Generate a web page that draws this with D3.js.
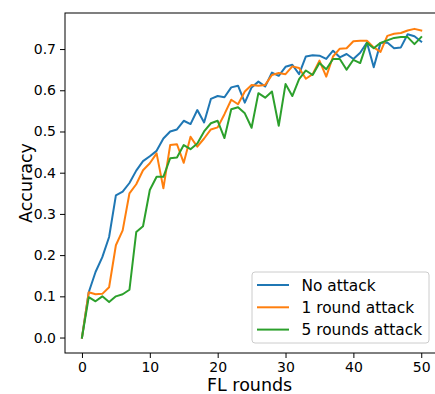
<!DOCTYPE html>
<html lang="en">
<head>
  <meta charset="UTF-8" />
  <title>Accuracy vs FL rounds</title>
  <script src="https://d3js.org/d3.v7.min.js"></script>
  <style>
    html, body {
      margin: 0;
      padding: 0;
      background: #fff;
      font-family: "DejaVu Sans", sans-serif;
    }
    svg { display: block; }
  </style>
</head>
<body>
  <svg id="chart" width="435" height="394"></svg>

  <script>
    const rounds = d3.range(0, 51);
    const seriesNames = ["No attack", "1 round attack", "5 rounds attack"];
    const colors = ["#1f77b4", "#ff7f0e", "#2ca02c"];

    const noAttack = [
      0.000, 0.110, 0.159, 0.195, 0.244, 0.345, 0.354, 0.375, 0.405, 0.428,
      0.440, 0.453, 0.483, 0.500, 0.505, 0.526, 0.518, 0.552, 0.522, 0.579,
      0.586, 0.583, 0.607, 0.611, 0.570, 0.607, 0.621, 0.609, 0.643, 0.635,
      0.657, 0.662, 0.639, 0.682, 0.685, 0.684, 0.676, 0.696, 0.680, 0.688,
      0.676, 0.691, 0.716, 0.656, 0.715, 0.716, 0.702, 0.704, 0.736, 0.731,
      0.718
    ];
    const oneRound = [
      0.000, 0.110, 0.105, 0.106, 0.122, 0.224, 0.260, 0.350, 0.372, 0.406,
      0.423, 0.447, 0.362, 0.467, 0.469, 0.424, 0.487, 0.463, 0.483, 0.505,
      0.510, 0.542, 0.577, 0.566, 0.597, 0.613, 0.611, 0.613, 0.637, 0.642,
      0.639, 0.658, 0.654, 0.628, 0.639, 0.672, 0.633, 0.682, 0.701, 0.702,
      0.719, 0.720, 0.720, 0.704, 0.693, 0.732, 0.737, 0.739, 0.745, 0.749,
      0.745
    ];
    const fiveRounds = [
      0.000, 0.098, 0.088, 0.100, 0.086, 0.100, 0.105, 0.116, 0.256, 0.270,
      0.358, 0.390, 0.390, 0.435, 0.437, 0.467, 0.457, 0.471, 0.500, 0.520,
      0.526, 0.484, 0.554, 0.559, 0.544, 0.509, 0.593, 0.582, 0.597, 0.514,
      0.615, 0.586, 0.627, 0.648, 0.637, 0.666, 0.651, 0.676, 0.676, 0.650,
      0.674, 0.666, 0.715, 0.702, 0.715, 0.721, 0.727, 0.729, 0.729, 0.712,
      0.729
    ];
    const xTicks = [0, 10, 20, 30, 40, 50];
    const yTicks = [0.0, 0.1, 0.2, 0.3, 0.4, 0.5, 0.6, 0.7];

    const series = [noAttack, oneRound, fiveRounds];

    const svg = d3.select("#chart");
    const plotLeft = 65, plotTop = 13, plotBottom = 353, plotRight = 438.2;

    const x = d3.scaleLinear().domain([-2.5, 52.5]).range([plotLeft, plotRight]);
    const y = d3.scaleLinear().domain([-0.0375, 0.7875]).range([plotBottom, plotTop]);

    // axes
    const xAxis = svg.append("g")
      .attr("transform", `translate(0,${plotBottom})`)
      .call(d3.axisBottom(x).tickValues(xTicks).tickSize(5).tickPadding(4).tickFormat(d3.format("d")));
    const yAxis = svg.append("g")
      .attr("transform", `translate(${plotLeft},0)`)
      .call(d3.axisLeft(y).tickValues(yTicks).tickSize(5).tickPadding(4).tickFormat(d3.format(".1f")));

    [xAxis, yAxis].forEach(g => {
      g.select(".domain").remove();
      g.selectAll(".tick line").attr("stroke", "#000").attr("stroke-width", 1);
      g.selectAll(".tick text")
        .attr("fill", "#000")
        .attr("font-family", "DejaVu Sans")
        .attr("font-size", "14px");
    });

    // frame
    svg.append("rect")
      .attr("x", plotLeft)
      .attr("y", plotTop)
      .attr("width", plotRight - plotLeft)
      .attr("height", plotBottom - plotTop)
      .attr("fill", "none")
      .attr("stroke", "#000")
      .attr("stroke-width", 1);

    // lines
    const line = d3.line()
      .x((d, i) => x(rounds[i]))
      .y(d => y(d));

    series.forEach((s, k) => {
      svg.append("path")
        .datum(s)
        .attr("fill", "none")
        .attr("stroke", colors[k])
        .attr("stroke-width", 2)
        .attr("stroke-linejoin", "round")
        .attr("stroke-linecap", "square")
        .attr("d", line);
    });

    // axis labels
    svg.append("text")
      .attr("x", (plotLeft + plotRight) / 2 - 2)
      .attr("y", 391)
      .attr("text-anchor", "middle")
      .attr("font-size", "17.5px")
      .attr("font-family", "DejaVu Sans")
      .text("FL rounds");

    svg.append("text")
      .attr("transform", `translate(32,${(plotTop + plotBottom) / 2}) rotate(-90)`)
      .attr("text-anchor", "middle")
      .attr("font-size", "17.5px")
      .attr("font-family", "DejaVu Sans")
      .text("Accuracy");

    // legend
    const legend = svg.append("g");
    legend.append("rect")
      .attr("x", 252)
      .attr("y", 272)
      .attr("width", 177)
      .attr("height", 71)
      .attr("rx", 3)
      .attr("fill", "#fff")
      .attr("fill-opacity", 0.8)
      .attr("stroke", "#ccc");

    seriesNames.forEach((name, k) => {
      const ly = 285 + k * 22.3;
      legend.append("line")
        .attr("x1", 257).attr("x2", 289)
        .attr("y1", ly).attr("y2", ly)
        .attr("stroke", colors[k])
        .attr("stroke-width", 2);
      legend.append("text")
        .attr("x", 301.5)
        .attr("y", ly + 5.5)
        .attr("font-size", "15.4px")
        .attr("font-family", "DejaVu Sans")
        .text(name);
    });
  </script>
</body>
</html>
